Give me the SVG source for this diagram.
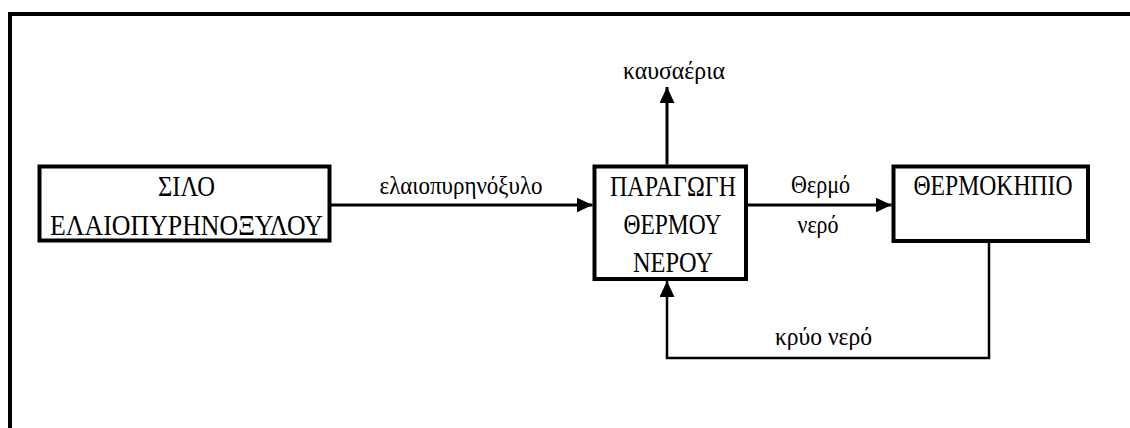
<svg xmlns="http://www.w3.org/2000/svg" width="1130" height="428" viewBox="0 0 1130 428">
<style>
.box{fill:#fff;stroke:#000;stroke-width:4}
.t{font-family:"Liberation Serif","DejaVu Serif",serif;font-size:30px;fill:#000;text-anchor:middle}
.l{font-family:"Liberation Serif","DejaVu Serif",serif;font-size:26px;fill:#000;text-anchor:middle}
.c{fill:none;stroke:#000;stroke-width:3}
.c2{fill:none;stroke:#000;stroke-width:2.5}
</style>
<defs>
<marker id="ah" markerUnits="userSpaceOnUse" markerWidth="17" markerHeight="16" refX="16" refY="7.5" orient="auto" viewBox="0 0 17 16">
<path d="M0,0 L16,7.5 L0,15 z" fill="#000"/>
</marker>
</defs>
<rect width="1130" height="428" fill="#fff"/>
<path d="M10,428 V14 H1130" fill="none" stroke="#000" stroke-width="4"/>
<g id="connectors">
<path class="c" d="M331,205 H592.5" marker-end="url(#ah)"/>
<path class="c" d="M748,205 H891.5" marker-end="url(#ah)"/>
<path class="c" d="M667,164.5 V87" marker-end="url(#ah)"/>
<path class="c2" d="M989,243 V358 H667 V281" marker-end="url(#ah)"/>
<text class="l" x="461" y="194" textLength="163" lengthAdjust="spacingAndGlyphs">ελαιοπυρηνόξυλο</text>
<text class="l" x="674" y="79" textLength="102" lengthAdjust="spacingAndGlyphs">καυσαέρια</text>
<text class="l" x="820.5" y="193" textLength="59" lengthAdjust="spacingAndGlyphs">Θερμό</text>
<text class="l" x="818" y="233" textLength="41" lengthAdjust="spacingAndGlyphs">νερό</text>
<text class="l" x="823.5" y="345" textLength="97" lengthAdjust="spacingAndGlyphs">κρύο νερό</text>
</g>
<g id="silo">
<rect class="box" x="39.5" y="166.5" width="290" height="74"/>
<text class="t" x="186.5" y="196" textLength="57" lengthAdjust="spacingAndGlyphs">ΣΙΛΟ</text>
<text class="t" x="186.5" y="235" textLength="273" lengthAdjust="spacingAndGlyphs">ΕΛΑΙΟΠΥΡΗΝΟΞΥΛΟΥ</text>
</g>
<g id="paragogi">
<rect class="box" x="594.5" y="166.5" width="151.5" height="112.5"/>
<text class="t" x="673" y="195.5" textLength="126" lengthAdjust="spacingAndGlyphs">ΠΑΡΑΓΩΓΗ</text>
<text class="t" x="672.5" y="233.5" textLength="98" lengthAdjust="spacingAndGlyphs">ΘΕΡΜΟΥ</text>
<text class="t" x="673" y="271.5" textLength="80" lengthAdjust="spacingAndGlyphs">ΝΕΡΟΥ</text>
</g>
<g id="thermokipio">
<rect class="box" x="893.5" y="166.5" width="194.5" height="74.5"/>
<text class="t" x="993" y="195" textLength="159" lengthAdjust="spacingAndGlyphs">ΘΕΡΜΟΚΗΠΙΟ</text>
</g>
</svg>
